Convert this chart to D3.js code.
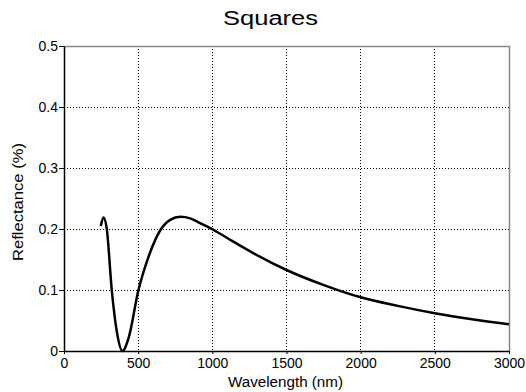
<!DOCTYPE html>
<html>
<head>
<meta charset="utf-8">
<script src="https://cdn.jsdelivr.net/npm/d3@7"></script>
<style>
  body { margin: 0; background: #fff; }
  text { font-family: "Liberation Sans", Arial, sans-serif; }
</style>
</head>
<body>
<div id="chart"></div>
<script>
// curve
var wavelength = [248, 266, 288, 322, 356, 394, 435, 502, 558, 649, 716, 784, 851, 874, 1002, 1122, 1279, 1500, 1752, 2000, 2250, 2500, 2750, 3000];
var reflectance = [0.205, 0.219, 0.201, 0.100, 0.032, 0.0, 0.021, 0.100, 0.146, 0.198, 0.215, 0.220, 0.2175, 0.2148, 0.1995, 0.182, 0.160, 0.1328, 0.108, 0.088, 0.074, 0.062, 0.052, 0.044];
var xTicks = [0, 500, 1000, 1500, 2000, 2500, 3000];
var yTicks = [0, 0.1, 0.2, 0.3, 0.4, 0.5];

var margin = {top: 46, right: 17, bottom: 41, left: 64},
    width = 526 - margin.left - margin.right,
    height = 392 - margin.top - margin.bottom;

var svg = d3.select("#chart").append("svg")
    .attr("width", 526)
    .attr("height", 392)
  .append("g")
    .attr("transform", "translate(" + margin.left + "," + margin.top + ")");

var x = d3.scaleLinear().domain([0, 3000]).range([0, width]);
var y = d3.scaleLinear().domain([0, 0.5]).range([height, 0]);

// grid
svg.selectAll(".vgrid").data(xTicks.slice(1, -1)).enter()
  .append("line")
    .attr("x1", function(d) { return x(d); })
    .attr("x2", function(d) { return x(d); })
    .attr("y1", 0).attr("y2", height)
    .attr("stroke", "#000").attr("stroke-width", 1)
    .attr("stroke-dasharray", "1,2")
    .attr("shape-rendering", "crispEdges");

svg.selectAll(".hgrid").data(yTicks.slice(1, -1)).enter()
  .append("line")
    .attr("y1", function(d) { return y(d); })
    .attr("y2", function(d) { return y(d); })
    .attr("x1", 0).attr("x2", width)
    .attr("stroke", "#000").attr("stroke-width", 1)
    .attr("stroke-dasharray", "1,2")
    .attr("shape-rendering", "crispEdges");

// top and right frame
svg.append("path")
    .attr("d", "M0,0.5H" + (width + 0.5) + "V" + height)
    .attr("fill", "none")
    .attr("stroke", "#888")
    .attr("stroke-width", 1.5);

// axes
var xAxis = d3.axisBottom(x)
    .tickValues(xTicks)
    .tickSize(3)
    .tickSizeOuter(0)
    .tickFormat(d3.format("d"));

var yAxis = d3.axisLeft(y)
    .tickValues(yTicks)
    .tickSize(5)
    .tickSizeOuter(0)
    .tickFormat(function(d) { return d === 0 ? "0" : d3.format(".1f")(d); });

var gx = svg.append("g")
    .attr("transform", "translate(0," + height + ")")
    .call(xAxis);
gx.selectAll("text").attr("font-size", 14).attr("fill", "#000").attr("y", 5).attr("dy", "0.85em");

var gy = svg.append("g").call(yAxis);
gy.selectAll("text").attr("font-size", 14).attr("fill", "#000").attr("x", -6);

svg.selectAll(".domain").attr("stroke", "#000").attr("stroke-width", 1.5);
svg.selectAll(".tick line").attr("stroke", "#000");

// labels
svg.append("text")
    .attr("x", 285.5 - margin.left - 57.5)
    .attr("y", 387 - margin.top)
    .attr("font-size", 14)
    .attr("textLength", 115)
    .attr("lengthAdjust", "spacingAndGlyphs")
    .text("Wavelength (nm)");

svg.append("text")
    .attr("transform", "translate(" + (23 - margin.left) + "," + (202 - margin.top) + ") rotate(-90)")
    .attr("x", -59)
    .attr("font-size", 14)
    .attr("textLength", 118)
    .attr("lengthAdjust", "spacingAndGlyphs")
    .text("Reflectance (%)");

svg.append("text")
    .attr("x", 223 - margin.left)
    .attr("y", 25 - margin.top)
    .attr("font-size", 20)
    .attr("textLength", 95)
    .attr("lengthAdjust", "spacingAndGlyphs")
    .text("Squares");

// curve
var pts = wavelength.map(function(w, i) { return [w, reflectance[i]]; });
var line = d3.line()
    .x(function(d) { return x(d[0]); })
    .y(function(d) { return y(d[1]); })
    .curve(d3.curveMonotoneX);

svg.append("path")
    .datum(pts)
    .attr("d", line)
    .attr("fill", "none")
    .attr("stroke", "#000")
    .attr("stroke-width", 2.5)
    .attr("stroke-linejoin", "round");
</script>
</body>
</html>
